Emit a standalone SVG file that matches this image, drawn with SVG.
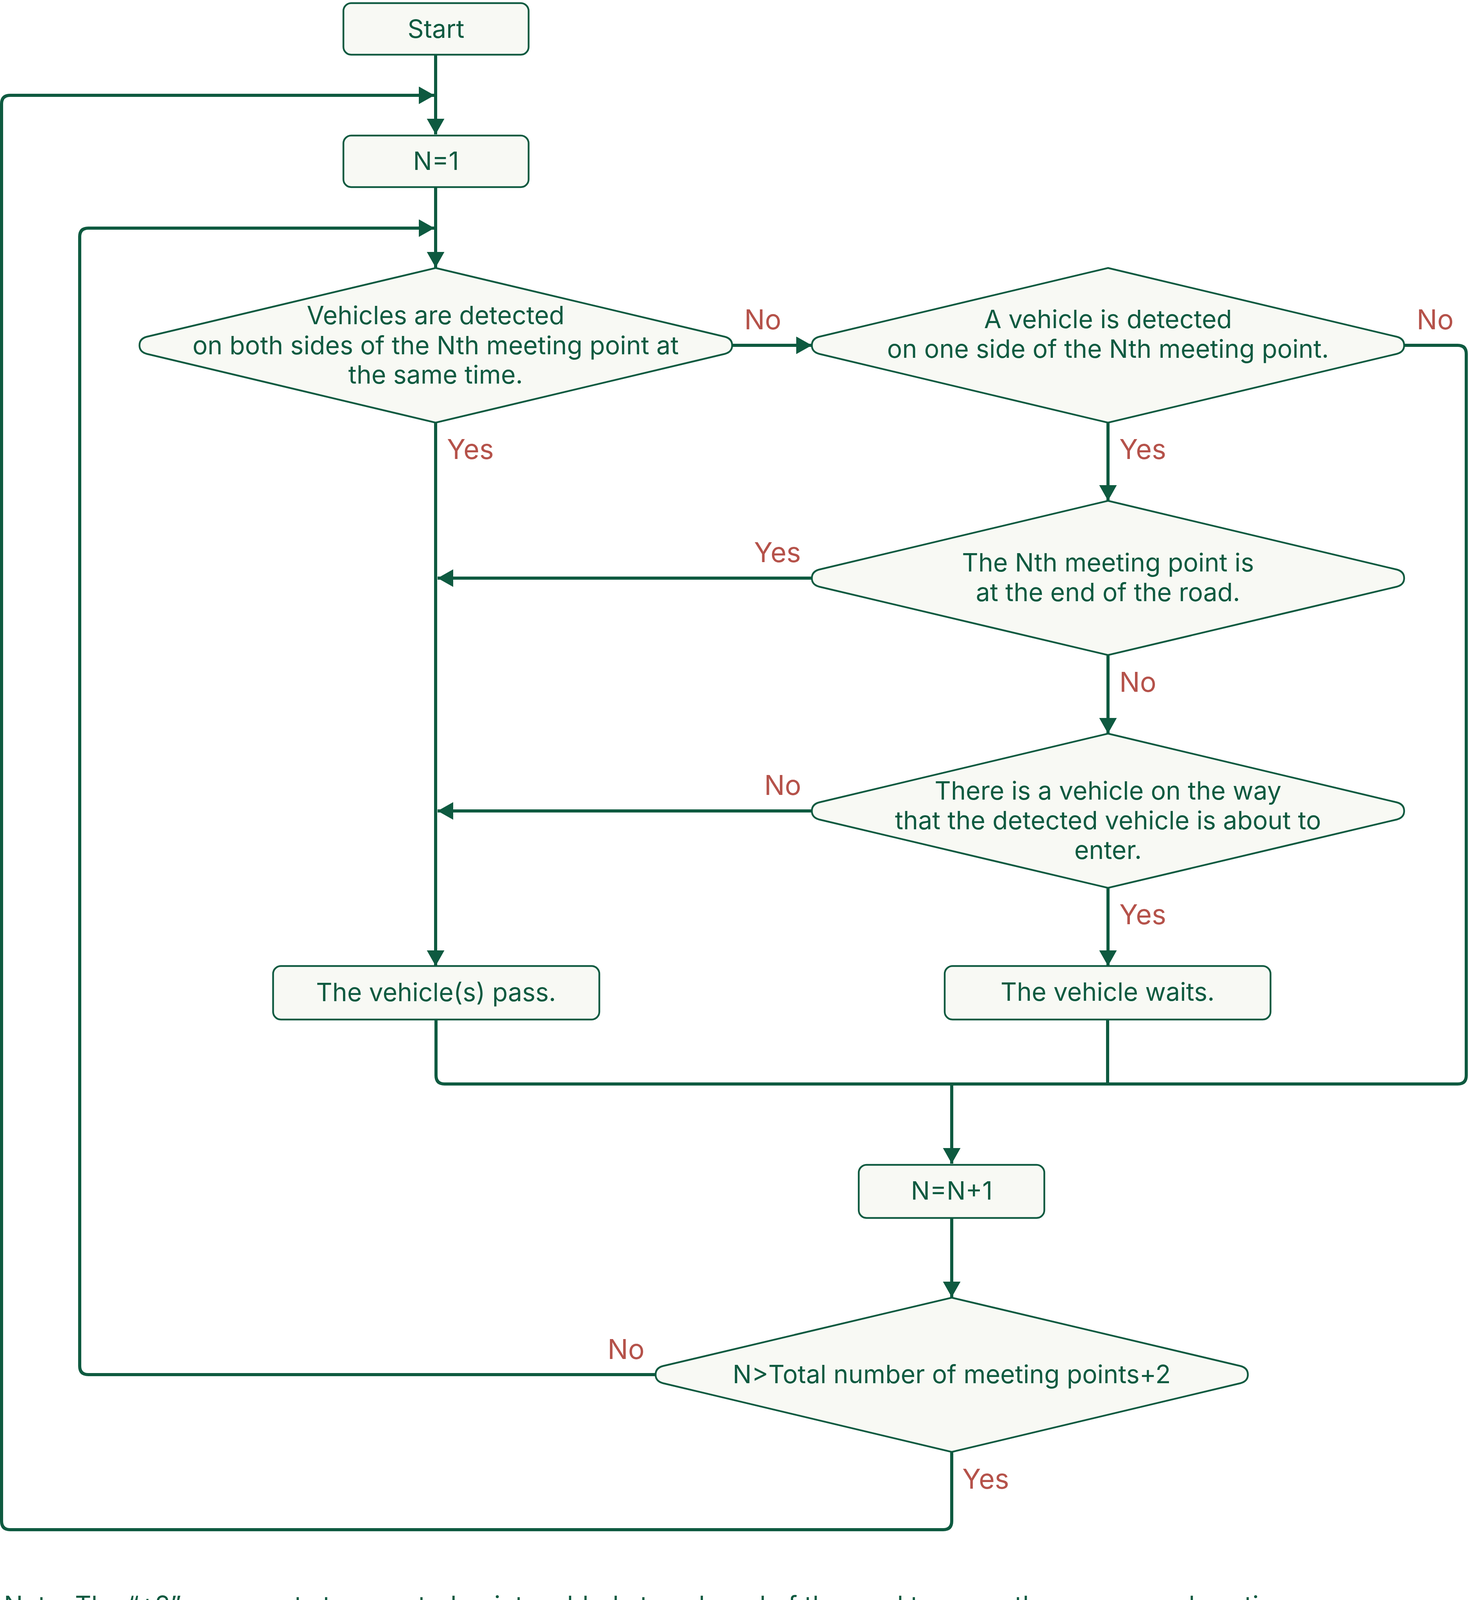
<svg xmlns="http://www.w3.org/2000/svg" width="3760" height="4152" viewBox="0 0 3760 4152">
<style>
.nd{fill:#F8F9F4;stroke:#0E5A40;stroke-width:4.5}
.t{font-family:Inter,"Noto Sans","Liberation Sans",sans-serif;font-size:64.5px;fill:#0E5A40;text-anchor:middle}
.lb{font-family:Inter,"Noto Sans","Liberation Sans",sans-serif;font-size:70px;fill:#B5524A}
.e{fill:none;stroke:#0E5A40;stroke-width:8}
.ea{fill:none;stroke:#0E5A40;stroke-width:8;marker-end:url(#ah)}
.note{font-family:Inter,"Noto Sans","Liberation Sans",sans-serif;font-size:64.5px;fill:#0E5A40}
</style>
<defs>
<marker id="ah" markerUnits="userSpaceOnUse" markerWidth="42" markerHeight="46" refX="40" refY="22.5" orient="auto">
<path d="M0,0 L40,22.5 L0,45 Z" fill="#0E5A40"/>
</marker>
</defs>
<rect width="3760" height="4152" fill="#FFFFFF"/>
<g id="connectors">
<path class="ea" d="M1115,140 V344"/>
<path class="ea" d="M1115,479 V685"/>
<path class="ea" d="M2436,3718 V3894 Q2436,3916 2414,3916 H26 Q4,3916 4,3894 V266 Q4,244 26,244 H1112"/>
<path class="ea" d="M1678,3519 H226 Q204,3519 204,3497 V606 Q204,584 226,584 H1112"/>
<path class="ea" d="M1874,884 H2078"/>
<path class="ea" d="M1115,1082 V2473"/>
<path class="ea" d="M2836,1081 V1282"/>
<path class="ea" d="M2078,1480 H1120"/>
<path class="ea" d="M2836,1677 V1878"/>
<path class="ea" d="M2078,2076 H1120"/>
<path class="ea" d="M2836,2273 V2473"/>
<path class="e" d="M1116,2610 V2753 Q1116,2775 1138,2775 H3731 Q3753,2775 3753,2753 V906 Q3753,884 3731,884 H3593"/>
<path class="e" d="M2835,2610 V2775"/>
<path class="ea" d="M2436,2775 V2979"/>
<path class="ea" d="M2436,3119 V3321"/>
</g>
<g id="labels">
<text class="lb" x="1905" y="843">No</text>
<text class="lb" x="3626" y="843">No</text>
<text class="lb" x="1144" y="1175">Yes</text>
<text class="lb" x="2865" y="1175">Yes</text>
<text class="lb" x="1930" y="1439">Yes</text>
<text class="lb" x="2865" y="1771">No</text>
<text class="lb" x="1956" y="2035">No</text>
<text class="lb" x="2865" y="2366">Yes</text>
<text class="lb" x="1555" y="3479">No</text>
<text class="lb" x="2463" y="3811">Yes</text>
</g>
<g id="start">
<rect class="nd" x="879" y="8" width="474" height="132" rx="20"/>
<text class="t" x="1116" y="97">Start</text>
</g>
<g id="n1">
<rect class="nd" x="879" y="347" width="474" height="132" rx="20"/>
<text class="t" x="1116" y="435">N=1</text>
</g>
<g id="d1">
<path class="nd" d="M1115,686 L1855,862 Q1874,867 1874,884 Q1874,901 1855,906 L1115,1082 L376,906 Q357,901 357,884 Q357,867 376,862 Z"/>
<text class="t" x="1115" y="830">Vehicles are detected</text>
<text class="t" x="1115" y="907">on both sides of the Nth meeting point at</text>
<text class="t" x="1115" y="982">the same time.</text>
</g>
<g id="d2">
<path class="nd" d="M2836,686 L3575,862 Q3594,867 3594,884 Q3594,901 3575,906 L2836,1082 L2097,906 Q2078,901 2078,884 Q2078,867 2097,862 Z"/>
<text class="t" x="2836" y="840">A vehicle is detected</text>
<text class="t" x="2836" y="916">on one side of the Nth meeting point.</text>
</g>
<g id="d3">
<path class="nd" d="M2836,1282 L3575,1458 Q3594,1463 3594,1480 Q3594,1497 3575,1502 L2836,1677 L2097,1502 Q2078,1497 2078,1480 Q2078,1463 2097,1458 Z"/>
<text class="t" x="2836" y="1463">The Nth meeting point is</text>
<text class="t" x="2836" y="1539">at the end of the road.</text>
</g>
<g id="d4">
<path class="nd" d="M2836,1878 L3575,2054 Q3594,2059 3594,2076 Q3594,2093 3575,2098 L2836,2273 L2097,2098 Q2078,2093 2078,2076 Q2078,2059 2097,2054 Z"/>
<text class="t" x="2836" y="2047">There is a vehicle on the way</text>
<text class="t" x="2836" y="2123">that the detected vehicle is about to</text>
<text class="t" x="2836" y="2199">enter.</text>
</g>
<g id="pass">
<rect class="nd" x="699" y="2473" width="835" height="137" rx="20"/>
<text class="t" x="1116" y="2563">The vehicle(s) pass.</text>
</g>
<g id="waits">
<rect class="nd" x="2418" y="2473" width="834" height="137" rx="20"/>
<text class="t" x="2835" y="2562">The vehicle waits.</text>
</g>
<g id="inc">
<rect class="nd" x="2198" y="2982" width="475" height="136" rx="20"/>
<text class="t" x="2436" y="3071">N=N+1</text>
</g>
<g id="d5">
<path class="nd" d="M2436,3322 L3175,3497 Q3194,3502 3194,3519 Q3194,3536 3175,3541 L2436,3717 L1697,3541 Q1678,3536 1678,3519 Q1678,3502 1697,3497 Z"/>
<text class="t" x="2436" y="3541">N&gt;Total number of meeting points+2</text>
</g>
<g id="note">
<text class="note" x="10" y="4132">Note: The “+2” represents two control points added at each end of the road to cover the narrow end sections.</text>
</g>
</svg>
